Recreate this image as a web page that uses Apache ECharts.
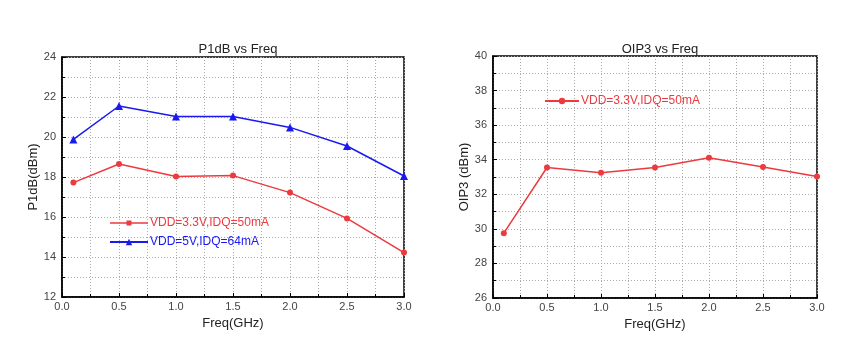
<!DOCTYPE html>
<html><head><meta charset="utf-8">
<script src="https://cdn.jsdelivr.net/npm/echarts@6/dist/echarts.min.js"></script>
<style>html,body{margin:0;padding:0;background:#fff}#c{width:850px;height:359px}</style>
</head><body><div id="c"></div>
<script>
const freq = [0.1, 0.5, 1.0, 1.5, 2.0, 2.5, 3.0];
const p1dbRed = [17.72, 18.65, 18.02, 18.07, 17.22, 15.93, 14.22];
const p1dbBlue = [19.88, 21.55, 21.02, 21.02, 20.48, 19.55, 18.05];
const oip3Red = [29.75, 33.55, 33.24, 33.55, 34.12, 33.58, 33.03];
const nameRed = 'VDD=3.3V,IDQ=50mA';
const nameBlue = 'VDD=5V,IDQ=64mA';
const RED = '#ec3a3f', BLUE = '#1a1af0';
const pairs = (xs, ys) => xs.map((x, i) => [x, ys[i]]);
const font = 'Liberation Sans, Arial, sans-serif';

function xAx(gi) {
  return {
    type: 'value', gridIndex: gi, min: 0, max: 3, interval: 0.5,
    name: 'Freq(GHz)', nameLocation: 'middle', nameGap: 17,
    nameTextStyle: { fontFamily: font, fontSize: 13, color: '#222' },
    axisLine: { show: true, lineStyle: { color: '#000', width: 1.5 } },
    axisTick: { show: true, inside: true, length: 4, lineStyle: { color: '#000' } },
    minorTick: { show: true, splitNumber: 2, length: 3, lineStyle: { color: '#000' } },
    axisLabel: { fontFamily: font, fontSize: 11, color: '#444', margin: 4, formatter: v => v.toFixed(1) },
    splitLine: { show: true, lineStyle: { color: '#aaa', type: [1, 2] } },
    minorSplitLine: { show: true, lineStyle: { color: '#aaa', type: [1, 2] } }
  };
}
function yAx(gi, min, max, name) {
  return {
    type: 'value', gridIndex: gi, min: min, max: max, interval: 2,
    name: name, nameLocation: 'middle', nameGap: 22, nameRotate: 90,
    nameTextStyle: { fontFamily: font, fontSize: 13, color: '#222' },
    axisLine: { show: true, lineStyle: { color: '#000', width: 1.5 } },
    axisTick: { show: true, inside: true, length: 4, lineStyle: { color: '#000' } },
    minorTick: { show: true, splitNumber: 2, length: 3, lineStyle: { color: '#000' } },
    axisLabel: { fontFamily: font, fontSize: 11, color: '#444', margin: 6 },
    splitLine: { show: true, lineStyle: { color: '#aaa', type: [1, 2] } },
    minorSplitLine: { show: true, lineStyle: { color: '#aaa', type: [1, 2] } }
  };
}
const squareIcon = 'path://M0,3.2L38,3.2L38,4.8L0,4.8Z M16.5,1.5L21.5,1.5L21.5,6.5L16.5,6.5Z';
const chart = echarts.init(document.getElementById('c'), null, { renderer: 'canvas' });
chart.setOption({
  animation: false,
  backgroundColor: '#fff',
  title: [
    { text: 'P1dB vs Freq', left: 233, top: 38, textAlign: 'center', textStyle: { fontFamily: font, fontSize: 13, fontWeight: 'normal', color: '#222' } },
    { text: 'OIP3 vs Freq', left: 655, top: 38, textAlign: 'center', textStyle: { fontFamily: font, fontSize: 13, fontWeight: 'normal', color: '#222' } }
  ],
  grid: [
    { left: 62, top: 57, width: 342, height: 240, show: true, borderColor: '#000', borderWidth: 1.5, backgroundColor: 'transparent' },
    { left: 493, top: 56, width: 324, height: 242, show: true, borderColor: '#000', borderWidth: 1.5, backgroundColor: 'transparent' }
  ],
  xAxis: [xAx(0), xAx(1)],
  yAxis: [yAx(0, 12, 24, 'P1dB(dBm)'), yAx(1, 26, 40, 'OIP3 (dBm)')],
  legend: [
    { left: 104, top: 212, orient: 'vertical', itemGap: 7, itemWidth: 38, itemHeight: 8,
      textStyle: { fontFamily: font, fontSize: 12, padding: [0, 0, 0, -3] },
      data: [{ name: nameRed, icon: squareIcon, textStyle: { color: RED } }, { name: nameBlue, textStyle: { color: BLUE } }] },
    { left: 539, top: 90, orient: 'vertical', itemWidth: 34, itemHeight: 8,
      textStyle: { fontFamily: font, fontSize: 12, padding: [0, 0, 0, -3] },
      data: [{ name: nameRed + ' ', textStyle: { color: RED } }] }
  ],
  series: [
    { name: nameRed, type: 'line', xAxisIndex: 0, yAxisIndex: 0, data: pairs(freq, p1dbRed),
      symbol: 'circle', symbolSize: 6, lineStyle: { color: RED, width: 1.5 }, itemStyle: { color: RED } },
    { name: nameBlue, type: 'line', xAxisIndex: 0, yAxisIndex: 0, data: pairs(freq, p1dbBlue),
      symbol: 'triangle', symbolSize: 8, lineStyle: { color: BLUE, width: 1.5 }, itemStyle: { color: BLUE } },
    { name: nameRed + ' ', type: 'line', xAxisIndex: 1, yAxisIndex: 1, data: pairs(freq, oip3Red),
      symbol: 'circle', symbolSize: 6, lineStyle: { color: RED, width: 1.5 }, itemStyle: { color: RED } }
  ]
});
</script></body></html>
